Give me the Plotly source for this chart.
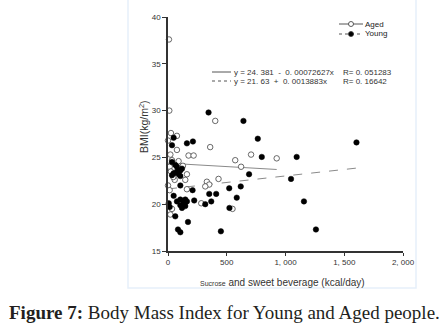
import plotly.graph_objects as go

# ---- data ----
aged_x = [11, 25, 0, 76, 76, 20, 34, 175, 218, 127, 14, 25, 161, 147, 57, 0, 14, 161,
          359, 402, 331, 351, 317, 430, 283, 34, 20, 549, 572, 622, 707, 925, 90, 45]
aged_y = [30.0, 27.6, 26.8, 27.3, 25.8, 25.3, 24.7, 25.2, 25.2, 24.1, 24.0, 23.5, 23.2, 22.6, 22.6, 22.0, 21.5, 21.6,
          26.1, 28.9, 22.4, 22.1, 21.9, 22.7, 20.1, 19.5, 18.9, 19.5, 24.7, 24.0, 25.3, 24.9, 24.6, 22.9]
aged_bg_x = [8]
aged_bg_y = [37.6]

young_x = [345, 642, 764, 161, 212, 48, 34, 798, 1095, 1604, 690, 1047, 619, 521, 585, 410, 351, 368,
           317, 223, 209, 523, 450, 1157, 1259, 170, 85, 105, 62, 48, 6, 14, 105,
           34, 62, 76, 105, 119, 48, 76, 105, 91, 34,
           76, 105, 133, 147, 161, 119, 147, 105, 133]
young_y = [29.8, 28.9, 27.0, 26.5, 26.7, 27.1, 26.3, 25.05, 25.05, 26.6, 23.2, 22.7, 21.9, 21.7, 20.7, 21.1, 21.1, 20.3,
           20.0, 20.4, 21.5, 19.6, 17.1, 20.3, 17.3, 18.1, 17.3, 17.0, 18.7, 20.9, 20.1, 19.7, 22.0,
           24.5, 24.2, 24.0, 23.6, 23.8, 23.3, 23.5, 23.0, 23.2, 23.1,
           20.3, 20.5, 20.3, 20.5, 20.3, 19.6, 19.8, 19.9, 20.0]

# regression coefficients and fitted x ranges
aged_fit = {"a": "24. 381", "sign": "-", "b": "0. 00072627", "a_val": 24.381, "b_val": -0.00072627,
            "xmin": 0, "xmax": 925, "R": "0. 051283"}
young_fit = {"a": "21. 63", "sign": "+", "b": "0. 0013883", "a_val": 21.63, "b_val": 0.0013883,
             "xmin": 0, "xmax": 1604, "R": "0. 16642"}

x_ticks = [0, 500, 1000, 1500, 2000]
x_ticklabels = ["0", "500", "1, 000", "1, 500", "2, 000"]
y_ticks = [15, 20, 25, 30, 35, 40]

W, H = 442, 334
L, R, T, B = 168, 39, 17, 83
pw, ph = W - L - R, H - T - B


def fx(px):
    return (px - L) / pw


def fy(py):
    return (H - B - py) / ph


fig = go.Figure()

for fit, dash in ((aged_fit, "solid"), (young_fit, "dash")):
    xs = [fit["xmin"], fit["xmax"]]
    ys = [fit["a_val"] + fit["b_val"] * v for v in xs]
    fig.add_trace(go.Scatter(x=xs, y=ys, mode="lines",
                             line=dict(color="#8a8a8a", width=1, dash=dash),
                             showlegend=False, hoverinfo="skip"))

fig.add_trace(go.Scatter(x=aged_x + aged_bg_x, y=aged_y + aged_bg_y, mode="markers",
                         marker=dict(symbol="circle", size=5.5, color="white",
                                     line=dict(color="#444", width=0.8)),
                         showlegend=False, cliponaxis=False))
fig.add_trace(go.Scatter(x=young_x, y=young_y, mode="markers",
                         marker=dict(symbol="circle", size=5.5, color="black",
                                     line=dict(color="black", width=0.5)),
                         showlegend=False, cliponaxis=False))

tickfont = dict(family="Liberation Sans, Arial, sans-serif", size=8, color="#333")

fig.update_xaxes(range=[0, 2000], tickvals=x_ticks, ticktext=x_ticklabels,
                 showgrid=False, zeroline=False, showline=True, linecolor="#333", linewidth=1.5,
                 ticks="outside", ticklen=3, tickcolor="#333", tickfont=tickfont)
fig.update_yaxes(range=[15, 40], tickvals=y_ticks,
                 showgrid=False, zeroline=False, showline=True, linecolor="#333", linewidth=1.5,
                 ticks="outside", ticklen=4, tickcolor="#333", tickfont=tickfont)

shapes = []
annotations = []
txtfont = dict(family="Liberation Sans, Arial, sans-serif", size=8, color="#333")

# faint frame
shapes.append(dict(type="rect", xref="paper", yref="paper",
                   x0=fx(128), x1=fx(416), y0=fy(288), y1=fy(-2),
                   line=dict(color="#e6f0fa", width=1.5), layer="below"))

# legend
for py, label, dash, fill in ((24, "Aged", "solid", "white"), (34, "Young", "dash", "black")):
    shapes.append(dict(type="line", xref="paper", yref="paper",
                       x0=fx(339), x1=fx(363), y0=fy(py), y1=fy(py),
                       line=dict(color="#555", width=1, dash="dot" if dash == "dash" else "solid")))
    shapes.append(dict(type="circle", xref="paper", yref="paper",
                       x0=fx(348.5), x1=fx(353.5), y0=fy(py + 2.5), y1=fy(py - 2.5),
                       fillcolor=fill, line=dict(color="#333", width=0.8)))
    annotations.append(dict(x=fx(364), y=fy(py), xref="paper", yref="paper", text=label,
                            showarrow=False, xanchor="left", yanchor="middle", borderpad=0,
                            font=dict(family="Liberation Sans, Arial, sans-serif",
                                      size=8, color="#222")))

# equations
for py, fit, dash in ((72, aged_fit, "solid"), (81, young_fit, "dot")):
    eq = f"y = {fit['a']}  {fit['sign']}  {fit['b']}x"
    shapes.append(dict(type="line", xref="paper", yref="paper",
                       x0=fx(212), x1=fx(231), y0=fy(py), y1=fy(py),
                       line=dict(color="#555", width=1, dash=dash)))
    annotations.append(dict(x=fx(233), y=fy(py), xref="paper", yref="paper", text=eq,
                            showarrow=False, xanchor="left", yanchor="middle", borderpad=0,
                            font=txtfont))
    annotations.append(dict(x=fx(342), y=fy(py), xref="paper", yref="paper",
                            text="R= " + fit["R"], borderpad=0,
                            showarrow=False, xanchor="left", yanchor="middle", font=txtfont))

# axis titles
annotations.append(dict(x=fx(143), y=fy(127), xref="paper", yref="paper",
                        text="BMI(kg/m<sup>2</sup>)", textangle=-90, showarrow=False,
                        xanchor="center", yanchor="middle",
                        font=dict(family="Liberation Sans, Arial, sans-serif", size=10.5, color="#333")))
annotations.append(dict(x=fx(282), y=fy(282), xref="paper", yref="paper",
                        text="<span style='font-size:7px'>Sucrose</span> and sweet beverage (kcal/day)",
                        showarrow=False, xanchor="center", yanchor="middle",
                        font=dict(family="Liberation Sans, Arial, sans-serif", size=10, color="#333")))

# caption
annotations.append(dict(x=fx(7), y=fy(312), xref="paper", yref="paper",
                        text="<b>Figure 7:</b> Body Mass Index for Young and Aged people.",
                        showarrow=False, xanchor="left", yanchor="middle",
                        font=dict(family="Liberation Serif, Times New Roman, serif", size=19, color="#231f20")))

fig.update_layout(width=W, height=H, margin=dict(l=L, r=R, t=T, b=B),
                  paper_bgcolor="white", plot_bgcolor="white",
                  shapes=shapes, annotations=annotations, showlegend=False)

fig.write_html("out.html", config={"displayModeBar": False},
               post_script="document.body.style.margin='0';")
